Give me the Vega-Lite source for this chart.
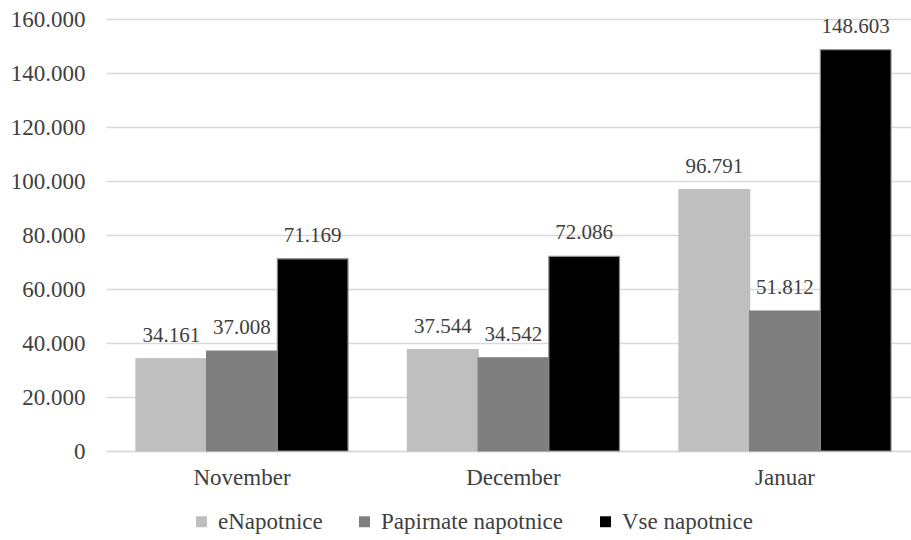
{
  "$schema": "https://vega.github.io/schema/vega-lite/v6.json",
  "width": 805,
  "height": 432,
  "padding": {"left": 106, "top": 19, "right": 0, "bottom": 89},
  "autosize": {"type": "none"},
  "background": "white",
  "config": {
    "font": "'Liberation Serif', 'Times New Roman', serif",
    "view": {"stroke": null},
    "locale": {"number": {"decimal": ",", "thousands": ".", "grouping": [3], "currency": ["", " €"]}}
  },
  "data": {
    "values": [
      {"mesec": "November", "serija": "eNapotnice", "vrednost": 34161},
      {"mesec": "November", "serija": "Papirnate napotnice", "vrednost": 37008},
      {"mesec": "November", "serija": "Vse napotnice", "vrednost": 71169},
      {"mesec": "December", "serija": "eNapotnice", "vrednost": 37544},
      {"mesec": "December", "serija": "Papirnate napotnice", "vrednost": 34542},
      {"mesec": "December", "serija": "Vse napotnice", "vrednost": 72086},
      {"mesec": "Januar", "serija": "eNapotnice", "vrednost": 96791},
      {"mesec": "Januar", "serija": "Papirnate napotnice", "vrednost": 51812},
      {"mesec": "Januar", "serija": "Vse napotnice", "vrednost": 148603}
    ]
  },
  "encoding": {
    "x": {
      "field": "mesec", "type": "nominal", "sort": ["November", "December", "Januar"],
      "scale": {"paddingInner": 0.219, "paddingOuter": 0.092, "align": 0.6},
      "axis": {"title": null, "labelAngle": 0, "labelFont": "'Liberation Serif', 'Times New Roman', serif", "labelFontSize": 23, "labelColor": "#404040", "ticks": false, "domainColor": "#d9d9d9", "domainWidth": 1.5, "labelPadding": 15}
    },
    "xOffset": {"field": "serija", "type": "nominal", "sort": ["eNapotnice", "Papirnate napotnice", "Vse napotnice"], "scale": {"paddingInner": 0, "paddingOuter": 0}},
    "y": {
      "field": "vrednost", "type": "quantitative",
      "scale": {"domain": [0, 160000], "nice": false},
      "axis": {"title": null, "format": ",d", "values": [0,20000,40000,60000,80000,100000,120000,140000,160000], "labelOverlap": false, "domain": false, "ticks": false, "gridColor": "#d9d9d9", "gridWidth": 1.5, "labelFont": "'Liberation Serif', 'Times New Roman', serif", "labelFontSize": 23, "labelColor": "#404040", "labelPadding": 21}
    }
  },
  "layer": [
    {
      "mark": {"type": "bar", "strokeWidth": 1.2},
      "encoding": {
        "color": {
          "field": "serija", "type": "nominal",
          "sort": ["eNapotnice", "Papirnate napotnice", "Vse napotnice"],
          "scale": {"domain": ["eNapotnice", "Papirnate napotnice", "Vse napotnice"], "range": ["#bfbfbf", "#7f7f7f", "#000000"]},
          "legend": {"title": null, "orient": "none", "legendX": 84, "legendY": 491, "direction": "horizontal", "symbolType": "square", "symbolSize": 120, "symbolStrokeWidth": 0, "labelFont": "'Liberation Serif', 'Times New Roman', serif", "labelFontSize": 23, "labelLimit": 400, "labelColor": "#404040", "columnPadding": 30, "labelOffset": 5, "symbolOffset": 0}
        },
        "stroke": {
          "field": "serija", "type": "nominal",
          "scale": {"domain": ["eNapotnice", "Papirnate napotnice", "Vse napotnice"], "range": ["#bfbfbf", "#7f7f7f", "#8c8c8c"]},
          "legend": null
        }
      }
    },
    {
      "mark": {"type": "text", "baseline": "alphabetic", "dy": -17, "font": "'Liberation Serif', 'Times New Roman', serif", "fontSize": 21, "color": "#404040"},
      "encoding": {
        "text": {"field": "vrednost", "type": "quantitative", "format": ",d"}
      }
    }
  ]
}
